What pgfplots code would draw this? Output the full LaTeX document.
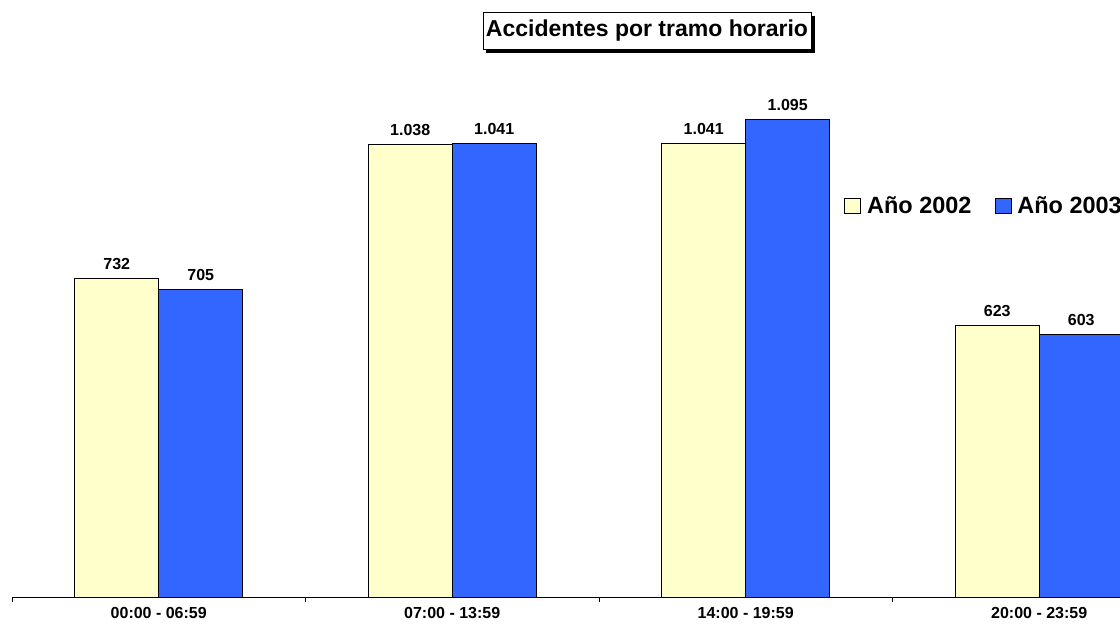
\documentclass[border=0pt]{standalone}
\usepackage{pgfplots}
\pgfplotsset{compat=1.18}
\usepackage{fontspec}
\setmainfont{Liberation Sans}
\usetikzlibrary{shadows}
\definecolor{amarillo}{HTML}{FFFFCC}
\definecolor{azul}{HTML}{3366FF}
\begin{document}
\begin{tikzpicture}[x=1pt,y=1pt]
\useasboundingbox (0,0) rectangle (1120,625);
\clip (0,0) rectangle (1120,625);
\begin{axis}[
  at={(12pt,28pt)}, anchor=south west,
  scale only axis, width=1174pt, height=566.5pt,
  xmin=-0.5, xmax=3.5, ymin=0, ymax=1300,
  ybar=0pt, bar width=84pt,
  axis y line=none,
  axis x line*=bottom,
  x axis line style={-, black, line width=0.8pt},
  xtick={0,1,2,3},
  xticklabels={00:00 - 06:59, 07:00 - 13:59, 14:00 - 19:59, 20:00 - 23:59},
  minor xtick={-0.5,0.5,1.5,2.5,3.5},
  major tick length=0pt, minor tick length=5pt, tick align=outside,
  minor tick style={black, line width=0.8pt},
  xticklabel style={font=\fontsize{16}{19}\selectfont\bfseries, yshift=-6.5pt},
  /pgf/number format/1000 sep={.},
  /pgf/number format/assume math mode=true,
  nodes near coords,
  every node near coord/.append style={font=\fontsize{16}{19}\selectfont\bfseries, yshift=5pt, black},
  legend columns=2,
  legend style={at={(0.7062,0.690)}, anchor=west, draw=none, fill=none,
    font=\fontsize{23.5}{28}\selectfont\bfseries,
    /tikz/every even column/.append style={column sep=17pt},
    nodes={inner xsep=6pt}},
]
\addplot[fill=amarillo, draw=black, line width=0.8pt,
  legend image code/.code={\draw[fill=amarillo,draw=black,line width=0.8pt] (0pt,-7pt) rectangle (16pt,8pt);}]
  coordinates {(0,732) (1,1038) (2,1041) (3,623)};
\addlegendentry{Año 2002}
\addplot[fill=azul, draw=black, line width=0.8pt,
  legend image code/.code={\draw[fill=azul,draw=black,line width=0.8pt] (0pt,-7pt) rectangle (16pt,8pt);}]
  coordinates {(0,705) (1,1041) (2,1095) (3,603)};
\addlegendentry{Año 2003}
\end{axis}
\node[draw=black, line width=0.8pt, fill=white, inner xsep=3pt, inner ysep=8pt,
  font=\fontsize{23}{27}\selectfont\bfseries,
  drop shadow={shadow xshift=3.5pt, shadow yshift=-3.5pt, opacity=1, fill=black}]
  at (647,594) {Accidentes por tramo horario};
\end{tikzpicture}
\end{document}
